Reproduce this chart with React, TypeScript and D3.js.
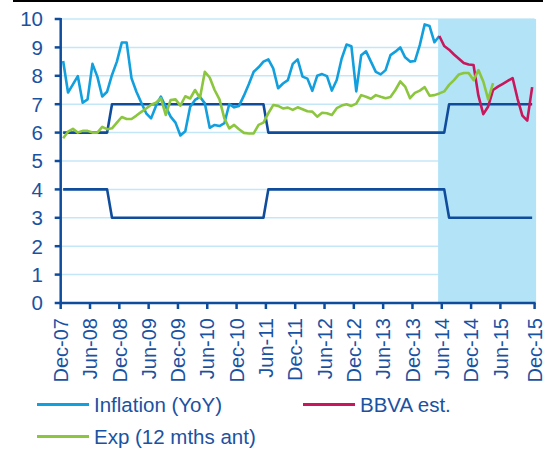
import React, { useEffect, useRef } from 'react';
import * as d3 from 'd3';

// monthly, Dec-07 = index 0
const inflation = [
  8.52, 7.41, 7.7, 7.99, 7.05, 7.17, 8.42, 7.97, 7.27, 7.44, 8.03, 8.5, 9.17, 9.17, 7.91, 7.44,
  7.05, 6.68, 6.5, 6.94, 7.27, 6.91, 6.56, 6.35, 5.9, 6.05, 6.91, 7.15, 7.26, 7.03, 6.17, 6.27,
  6.23, 6.33, 7.0, 6.89, 6.94, 7.3, 7.7, 8.14, 8.3, 8.5, 8.58, 8.26, 7.56, 7.73, 7.85, 8.42,
  8.58, 7.97, 7.9, 7.47, 8.0, 8.06, 7.99, 7.48, 7.85, 8.6, 9.1, 9.04, 7.45, 8.72, 8.86, 8.5,
  8.14, 8.05, 8.2, 8.73, 8.85, 9.0, 8.65, 8.5, 8.52, 9.08, 9.81, 9.75, 9.18, 9.4,
];

const expectations = [
  5.8, 6.03, 6.13, 6.0, 6.06, 6.06, 6.0, 6.0, 6.2, 6.12, 6.15, 6.35, 6.55, 6.48, 6.48, 6.6,
  6.73, 6.85, 6.98, 7.05, 7.21, 6.62, 7.15, 7.17, 6.95, 7.28, 7.2, 7.5, 7.22, 8.14, 7.94, 7.5,
  7.17, 6.5, 6.15, 6.27, 6.12, 5.99, 5.97, 5.97, 6.27, 6.35, 6.68, 6.97, 6.94, 6.85, 6.88, 6.8,
  6.89, 6.82, 6.75, 6.74, 6.56, 6.7, 6.68, 6.62, 6.86, 6.95, 7.0, 6.94, 7.02, 7.32, 7.26, 7.19,
  7.32, 7.26, 7.21, 7.25, 7.5, 7.8, 7.62, 7.21, 7.4, 7.48, 7.6, 7.3, 7.32, 7.38, 7.45, 7.68,
  7.85, 8.05, 8.1, 8.1, 7.85, 8.2, 7.8, 7.17, 7.74,
];

// BBVA estimate starts at May-14 (index 77)
const bbvaStart = 77;
const bbvaEst = [
  9.4, 9.05, 8.92, 8.75, 8.6, 8.45, 8.4, 8.38, 7.3, 6.65, 6.92, 7.5, 7.62, 7.72, 7.82, 7.92,
  7.2, 6.6, 6.42, 7.6,
];

// target band as [value, number of months]
const targetUpper = [[6, 10], [7, 32], [6, 37], [7, 18]];
const targetLower = [[4, 10], [3, 32], [4, 37], [3, 18]];

const xTickLabels = [
  'Dec-07', 'Jun-08', 'Dec-08', 'Jun-09', 'Dec-09', 'Jun-10', 'Dec-10', 'Jun-11', 'Dec-11',
  'Jun-12', 'Dec-12', 'Jun-13', 'Dec-13', 'Jun-14', 'Dec-14', 'Jun-15', 'Dec-15',
];
const yTicks = [0, 1, 2, 3, 4, 5, 6, 7, 8, 9, 10];

const nMonths = 97;
const forecastFrom = 77.25;

const legendItems = [
  { label: 'Inflation (YoY)', color: '#129fdd', col: 0, row: 0 },
  { label: 'BBVA est.', color: '#c8175d', col: 1, row: 0 },
  { label: 'Exp (12 mths ant)', color: '#8cc63e', col: 0, row: 1 },
];

const TEXT = '#1a52a2';
const DARK = '#0f4c9c';
const FONT = '"Liberation Sans", Arial, sans-serif';

const expand = (runs) => runs.flatMap(([v, n]) => Array(n).fill(v));

const App = () => {
  const svgRef = useRef(null);
  const width = 548;
  const height = 452;

  useEffect(() => {
    const svg = d3.select(svgRef.current);
    svg.selectAll('*').remove();

    const left = 60.7, right = 534.6, top = 19, bottom = 303;

    const x = d3.scaleLinear().domain([0, nMonths]).range([left, right]);
    const y = d3.scaleLinear().domain([0, 10]).range([bottom, top]);
    const xc = (i) => x(i + 0.5);

    // black bar on top
    svg.append('rect').attr('x', 13).attr('y', 0).attr('width', 530).attr('height', 2).attr('fill', '#000');

    // grid
    svg.append('g').selectAll('line')
      .data(yTicks.filter((d) => d > 0))
      .enter().append('line')
      .attr('x1', left).attr('x2', right)
      .attr('y1', (d) => y(d)).attr('y2', (d) => y(d))
      .attr('stroke', '#c4e7f7').attr('stroke-width', 1.5);

    // forecast shading
    svg.append('rect')
      .attr('x', x(forecastFrom)).attr('y', y(10))
      .attr('width', x(nMonths + 0.3) - x(forecastFrom))
      .attr('height', y(0) - y(10))
      .attr('fill', '#b3e3f6');

    const line = d3.line().x((d) => xc(d[0])).y((d) => y(d[1]));
    const drawSeries = (vals, offset, color) => {
      svg.append('path')
        .datum(vals.map((v, i) => [i + offset, v]))
        .attr('fill', 'none')
        .attr('stroke', color)
        .attr('stroke-width', 2.6)
        .attr('stroke-linejoin', 'round')
        .attr('d', line);
    };

    drawSeries(expand(targetUpper), 0, DARK);
    drawSeries(expand(targetLower), 0, DARK);
    drawSeries(inflation, 0, '#129fdd');
    drawSeries(bbvaEst, bbvaStart, '#c8175d');
    drawSeries(expectations, 0, '#8cc63e');

    // y axis
    svg.append('line')
      .attr('x1', left).attr('x2', left).attr('y1', y(10) - 1).attr('y2', bottom)
      .attr('stroke', DARK).attr('stroke-width', 2.5);
    const yg = svg.append('g');
    yg.selectAll('line').data(yTicks).enter().append('line')
      .attr('x1', left - 6).attr('x2', left)
      .attr('y1', (d) => y(d)).attr('y2', (d) => y(d))
      .attr('stroke', DARK).attr('stroke-width', 2.5);
    yg.selectAll('text').data(yTicks).enter().append('text')
      .attr('x', 43).attr('y', (d) => y(d)).attr('dy', '0.36em')
      .attr('text-anchor', 'end')
      .style('font-family', FONT).style('font-size', '20.5px').style('fill', TEXT)
      .text((d) => d);

    // x axis
    svg.append('line')
      .attr('x1', left - 1).attr('x2', right + 1).attr('y1', bottom).attr('y2', bottom)
      .attr('stroke', DARK).attr('stroke-width', 2.5);
    const tickPos = (i) => (i === xTickLabels.length - 1 ? nMonths : i * 6);
    const xg = svg.append('g');
    xg.selectAll('line').data(xTickLabels).enter().append('line')
      .attr('x1', (_, i) => x(tickPos(i))).attr('x2', (_, i) => x(tickPos(i)))
      .attr('y1', bottom).attr('y2', bottom + 6)
      .attr('stroke', DARK).attr('stroke-width', 2.5);
    xg.selectAll('text').data(xTickLabels).enter().append('text')
      .attr('transform', (_, i) => `translate(${x(tickPos(i))},${bottom + 15}) rotate(-90)`)
      .attr('dy', '0.36em')
      .attr('text-anchor', 'end')
      .style('font-family', FONT).style('font-size', '20px').style('fill', TEXT)
      .text((d) => d);

    // legend
    const lg = svg.append('g').selectAll('g').data(legendItems).enter().append('g')
      .attr('transform', (d) => `translate(${37 + d.col * 266},${404.5 + d.row * 32})`);
    lg.append('line').attr('x1', 0).attr('x2', 52).attr('y1', 0).attr('y2', 0)
      .attr('stroke', (d) => d.color).attr('stroke-width', 3);
    lg.append('text').attr('x', 57).attr('y', 0).attr('dy', '0.36em')
      .style('font-family', FONT).style('font-size', '20.5px').style('fill', TEXT)
      .text((d) => d.label);
  }, []);

  return (
    <svg ref={svgRef} width={width} height={height}
      style={{ position: 'absolute', left: 0, top: 0, background: '#fff' }} />
  );
};

export default App;
